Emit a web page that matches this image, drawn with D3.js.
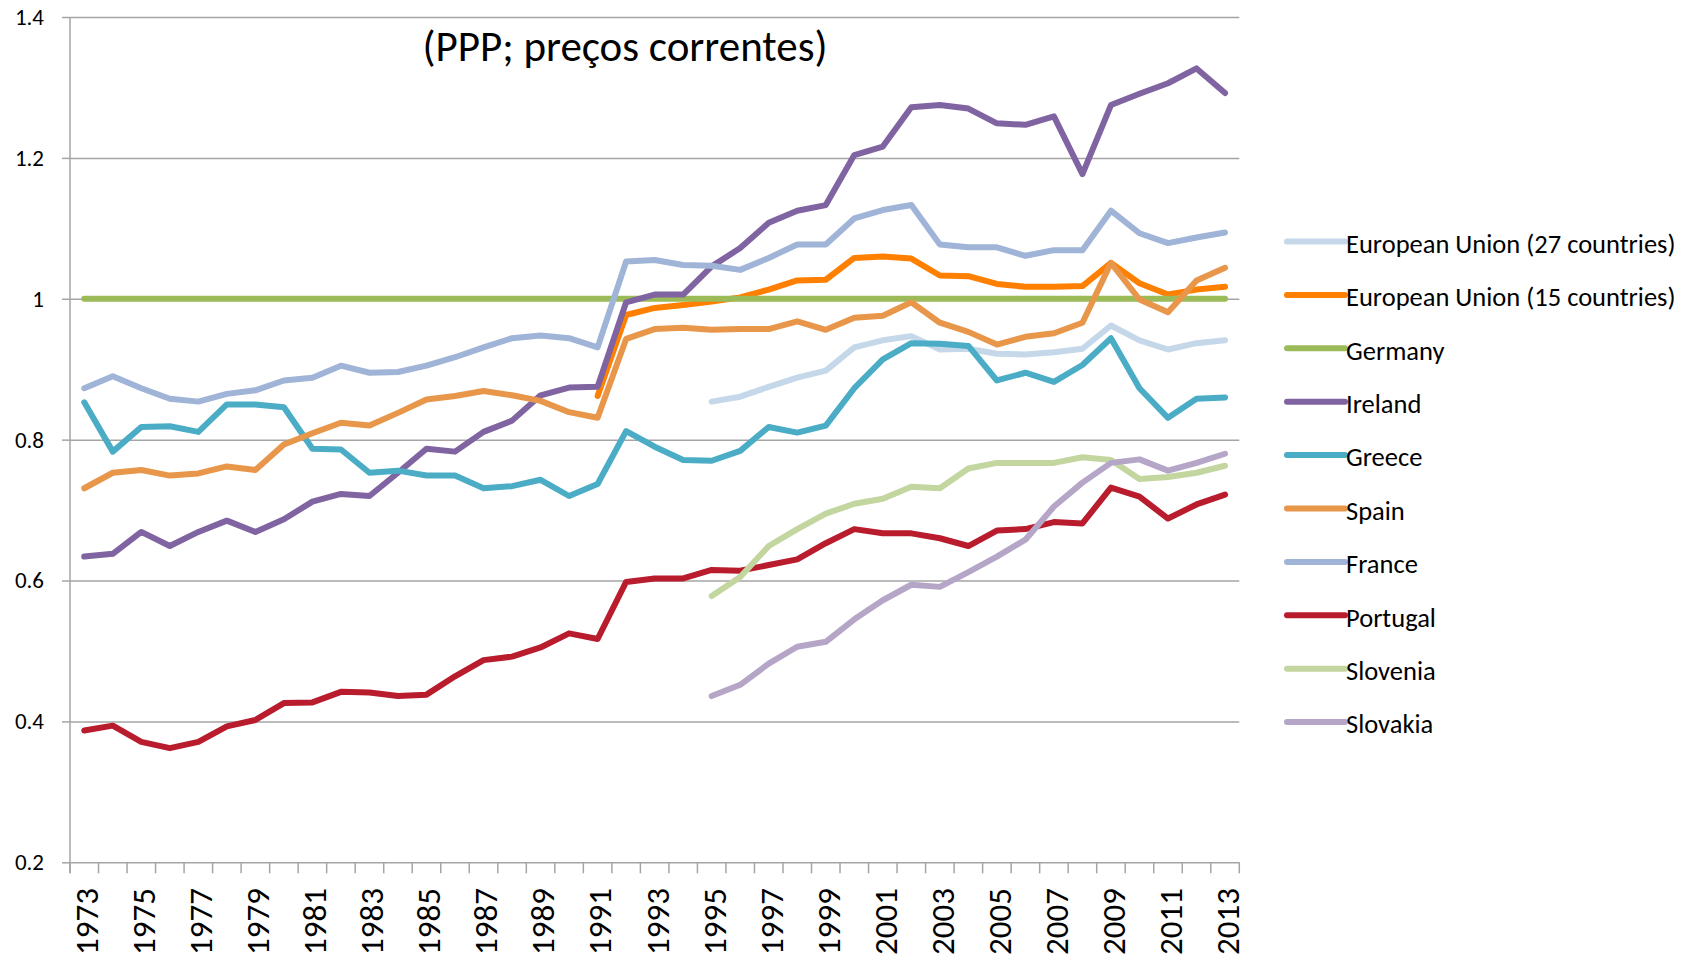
<!DOCTYPE html>
<html>
<head>
<meta charset="utf-8">
<script src="https://cdn.jsdelivr.net/npm/d3@7"></script>
<style>
  body { margin: 0; background: #fff; }
  text { font-family: Carlito, Calibri, Lato, sans-serif; fill: #000; }
</style>
</head>
<body>
<script>
const svgWidth = 1681;
const svgHeight = 962;

// categorias (anos)
const years = [1973, 1974, 1975, 1976, 1977, 1978, 1979, 1980, 1981, 1982,
    1983, 1984, 1985, 1986, 1987, 1988, 1989, 1990, 1991, 1992,
    1993, 1994, 1995, 1996, 1997, 1998, 1999, 2000, 2001, 2002,
    2003, 2004, 2005, 2006, 2007, 2008, 2009, 2010, 2011, 2012, 2013];
const yTicks = [0.2, 0.4, 0.6, 0.8, 1, 1.2, 1.4];

// séries; cada uma começa no ano indicado
const eu27Start = 1995;
const eu27 = [0.854, 0.861, 0.875, 0.888, 0.898, 0.931, 0.941, 0.947, 0.928, 0.929,
    0.922, 0.921, 0.924, 0.929, 0.962, 0.941, 0.928, 0.937, 0.941];
const eu15Start = 1991;
const eu15 = [0.862, 0.977, 0.987, 0.991, 0.996, 1.002, 1.013, 1.026, 1.027, 1.058,
    1.060, 1.057, 1.033, 1.032, 1.021, 1.017, 1.017, 1.018, 1.051, 1.022,
    1.006, 1.013, 1.017];
const germany = [1, 1, 1, 1, 1, 1, 1, 1, 1, 1, 1, 1, 1, 1, 1, 1, 1, 1, 1, 1,
    1, 1, 1, 1, 1, 1, 1, 1, 1, 1, 1, 1, 1, 1, 1, 1, 1, 1, 1, 1, 1];
const ireland = [0.634, 0.638, 0.669, 0.649, 0.669, 0.685, 0.669, 0.687, 0.712, 0.723,
    0.720, 0.753, 0.787, 0.783, 0.811, 0.827, 0.863, 0.874, 0.875, 0.995,
    1.006, 1.006, 1.046, 1.072, 1.108, 1.125, 1.133, 1.204, 1.216, 1.272,
    1.275, 1.270, 1.249, 1.247, 1.259, 1.177, 1.275, 1.291, 1.306, 1.327, 1.292];
const greece = [0.853, 0.783, 0.818, 0.819, 0.811, 0.850, 0.850, 0.846, 0.787, 0.786,
    0.753, 0.756, 0.749, 0.749, 0.731, 0.734, 0.743, 0.720, 0.737, 0.812,
    0.790, 0.771, 0.770, 0.784, 0.818, 0.810, 0.820, 0.873, 0.914, 0.937,
    0.936, 0.933, 0.884, 0.895, 0.882, 0.906, 0.944, 0.873, 0.831, 0.858, 0.860];
const spain = [0.731, 0.753, 0.757, 0.749, 0.752, 0.762, 0.757, 0.793, 0.809, 0.824,
    0.820, 0.838, 0.857, 0.862, 0.869, 0.863, 0.855, 0.839, 0.831, 0.943,
    0.957, 0.959, 0.956, 0.957, 0.957, 0.968, 0.956, 0.973, 0.976, 0.995,
    0.966, 0.953, 0.935, 0.946, 0.951, 0.966, 1.051, 0.999, 0.981, 1.026, 1.044];
const france = [0.873, 0.890, 0.873, 0.858, 0.854, 0.865, 0.870, 0.884, 0.888, 0.905,
    0.895, 0.896, 0.905, 0.917, 0.931, 0.944, 0.948, 0.944, 0.931, 1.053,
    1.055, 1.048, 1.047, 1.041, 1.058, 1.077, 1.077, 1.114, 1.126, 1.133,
    1.077, 1.073, 1.073, 1.061, 1.069, 1.069, 1.125, 1.093, 1.079, 1.087, 1.094];
const portugal = [0.387, 0.394, 0.371, 0.362, 0.371, 0.393, 0.402, 0.426, 0.427, 0.442,
    0.441, 0.436, 0.438, 0.464, 0.487, 0.492, 0.505, 0.525, 0.517, 0.598,
    0.603, 0.603, 0.615, 0.614, 0.622, 0.630, 0.653, 0.673, 0.667, 0.667,
    0.660, 0.649, 0.671, 0.673, 0.683, 0.681, 0.732, 0.719, 0.688, 0.708, 0.722];
const sloveniaStart = 1995;
const slovenia = [0.578, 0.605, 0.649, 0.673, 0.695, 0.709, 0.716, 0.733, 0.731, 0.759,
    0.767, 0.767, 0.767, 0.775, 0.771, 0.744, 0.747, 0.753, 0.763];
const slovakiaStart = 1995;
const slovakia = [0.436, 0.452, 0.482, 0.506, 0.513, 0.545, 0.572, 0.594, 0.591, 0.612,
    0.634, 0.658, 0.705, 0.739, 0.767, 0.772, 0.756, 0.767, 0.780];

const seriesNames = ['European Union (27 countries)', 'European Union (15 countries)',
    'Germany', 'Ireland', 'Greece', 'Spain', 'France', 'Portugal', 'Slovenia', 'Slovakia'];
const seriesColors = ['#c5d8ea', '#ff7f00', '#9bbb59', '#8064a2', '#4bacc6',
    '#e8964a', '#9fb4d7', '#b91c2c', '#c3d69f', '#b5a6c8'];

const series = [
    {values: eu27, start: eu27Start},
    {values: eu15, start: eu15Start},
    {values: germany, start: 1973},
    {values: ireland, start: 1973},
    {values: greece, start: 1973},
    {values: spain, start: 1973},
    {values: france, start: 1973},
    {values: portugal, start: 1973},
    {values: slovenia, start: sloveniaStart},
    {values: slovakia, start: slovakiaStart},
].map((s, i) => ({
    name: seriesNames[i],
    color: seriesColors[i],
    points: s.values.map((v, j) => ({year: s.start + j, value: v}))
}));

// área do gráfico
const plotLeft = 70, plotRight = 1239.3, plotTop = 17, plotBottom = 862.3;

const svg = d3.select('body')
    .append('svg')
    .attr('width', svgWidth)
    .attr('height', svgHeight);

const x = d3.scaleBand()
    .domain(years)
    .range([plotLeft, plotRight]);

const y = d3.scaleLinear()
    .domain([0.2, 1.4])
    .range([plotBottom, plotTop]);

const fmt = d => d3.format('.1f')(d).replace(/\.0$/, '');

// linhas de grelha
svg.append('g')
    .attr('transform', `translate(${plotLeft},0)`)
    .call(d3.axisLeft(y).tickValues(yTicks).tickSize(-(plotRight - plotLeft)).tickFormat(''))
    .call(g => g.select('.domain').remove())
    .call(g => g.selectAll('line').attr('stroke', '#a5a5a5').attr('stroke-width', 1.5));

// eixo y
svg.append('g')
    .attr('transform', `translate(${plotLeft},0)`)
    .call(d3.axisLeft(y).tickValues(yTicks).tickSize(8).tickPadding(18).tickFormat(fmt))
    .call(g => g.select('.domain').attr('d', `M0,${plotTop}V${plotBottom + 11}`))
    .call(g => g.selectAll('.domain, line').attr('stroke', '#a5a5a5').attr('stroke-width', 1.5))
    .call(g => g.selectAll('text')
        .style('font-size', '23px')
        .attr('fill', '#000'));

// eixo x: marcas entre categorias
const xAxis = svg.append('g');
xAxis.selectAll('.xtick')
    .data(years.concat([null]))
    .enter()
    .append('line')
    .attr('class', 'xtick')
    .attr('x1', d => d === null ? plotRight : x(d))
    .attr('x2', d => d === null ? plotRight : x(d))
    .attr('y1', plotBottom)
    .attr('y2', plotBottom + 11)
    .attr('stroke', '#a5a5a5')
    .attr('stroke-width', 1.5);

xAxis.selectAll('.xlabel')
    .data(years.filter((d, i) => i % 2 === 0))
    .enter()
    .append('text')
    .attr('class', 'xlabel')
    .attr('transform', d => `translate(${x(d) + x.bandwidth() / 2},888) rotate(-90)`)
    .attr('text-anchor', 'end')
    .attr('dy', '0.42em')
    .style('font-size', '33px')
    .text(d => d);

// séries
const line = d3.line()
    .x(d => x(d.year) + x.bandwidth() / 2)
    .y(d => y(d.value));

svg.append('g')
    .selectAll('path')
    .data(series)
    .enter()
    .append('path')
    .attr('d', d => line(d.points))
    .attr('fill', 'none')
    .attr('stroke', d => d.color)
    .attr('stroke-width', 6)
    .attr('stroke-linejoin', 'round')
    .attr('stroke-linecap', 'round');

// título
svg.append('text')
    .attr('x', 625)
    .attr('y', 61)
    .attr('text-anchor', 'middle')
    .style('font-size', '43px')
    .text('(PPP; preços correntes)');

// legenda
const legend = svg.append('g')
    .selectAll('g')
    .data(series)
    .enter()
    .append('g')
    .attr('transform', (d, i) => `translate(1287,${241.5 + 53.4 * i})`);

legend.append('line')
    .attr('x1', 0)
    .attr('x2', 58)
    .attr('stroke', d => d.color)
    .attr('stroke-width', 6)
    .attr('stroke-linecap', 'round');

legend.append('text')
    .attr('x', 59)
    .attr('y', 2)
    .attr('dy', '0.35em')
    .style('font-size', '26.5px')
    .text(d => d.name);
</script>
</body>
</html>
